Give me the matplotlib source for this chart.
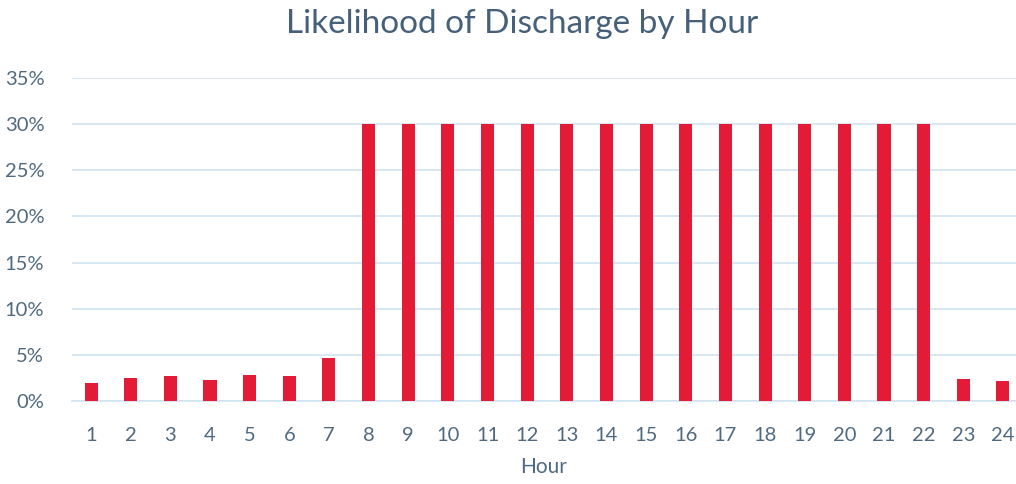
import matplotlib
matplotlib.use("Agg")
import matplotlib.pyplot as plt
from matplotlib.ticker import PercentFormatter

# Hourly discharge likelihood (%)
hours = list(range(1, 25))
likelihood = [2.0, 2.5, 2.7, 2.3, 2.8, 2.7, 4.7,
              30, 30, 30, 30, 30, 30, 30, 30, 30, 30, 30, 30, 30, 30, 30,
              2.35, 2.2]

text_color = "#4f6a80"
bar_color = "#e31b37"
grid_color = "#cfe4f2"

plt.rcParams["font.family"] = ["Lato", "DejaVu Sans"]

fig = plt.figure(figsize=(10.16, 4.84), dpi=100)
ax = fig.add_axes([0.0709, 0.1715, 0.9291, 0.6674])

ax.bar(hours, likelihood, width=0.33, color=bar_color, zorder=3)

ax.set_xlim(0.52, 24.33)
ax.set_ylim(0, 35)
ax.set_yticks(range(0, 36, 5))
ax.yaxis.set_major_formatter(PercentFormatter(decimals=0))
ax.set_xticks(hours)

ax.grid(axis="y", color=grid_color, linewidth=1.2, zorder=0)
for side in ["top", "right", "left"]:
    ax.spines[side].set_visible(False)
ax.spines["bottom"].set_color(grid_color)
ax.spines["bottom"].set_linewidth(1.2)

ax.tick_params(axis="both", length=0, labelsize=14.5, labelcolor=text_color)
ax.tick_params(axis="x", pad=19)
ax.tick_params(axis="y", pad=20)

ax.set_xlabel("Hour", fontsize=15, color=text_color, labelpad=9)
fig.text(522 / 1016, 1 - 24 / 484, "Likelihood of Discharge by Hour",
         ha="center", va="center", fontsize=24, color="#46607a")

fig.savefig("out.png", dpi=100)
